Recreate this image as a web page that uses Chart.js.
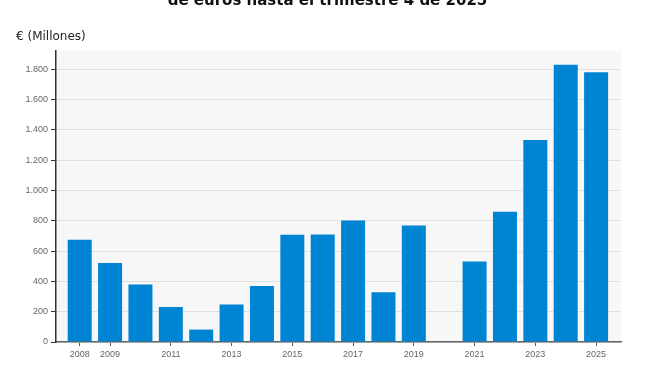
<!DOCTYPE html>
<html>
<head>
<meta charset="utf-8">
<script src="https://cdn.jsdelivr.net/npm/chart.js@4/dist/chart.umd.min.js"></script>
<style>
  html, body { margin: 0; padding: 0; background: #fff; overflow: hidden; }
  #wrap { position: relative; width: 655px; height: 371px; }
  #title { position: absolute; left: 0; width: 655px; top: -9px; text-align: center;
    font: bold 15px "DejaVu Sans", sans-serif; color: #111; white-space: nowrap; }
  #unit { position: absolute; left: 16px; top: 29px; font: 12px "DejaVu Sans", sans-serif; color: #222; }
</style>
</head>
<body>
<div id="wrap">
  <canvas id="chart" width="655" height="371"></canvas>
  <div id="title">de euros hasta el trimestre 4 de 2025</div>
  <div id="unit">€ (Millones)</div>
</div>
<script>
const years = [2008, 2009, 2010, 2011, 2012, 2013, 2014, 2015, 2016, 2017, 2018, 2019, 2020, 2021, 2022, 2023, 2024, 2025];
const amounts = [675, 522, 379, 231, 82, 247, 370, 707, 710, 801, 328, 769, null, 531, 860, 1333, 1829, 1779];
const xTickYears = [2008, 2009, 2011, 2013, 2015, 2017, 2019, 2021, 2023, 2025];
const yTicks = [0, 200, 400, 600, 800, 1000, 1200, 1400, 1600, 1800];

const tickFont = { family: '"Liberation Sans", Arial, sans-serif', size: 9 };

const plotBackground = {
    id: 'plotBackground',
    beforeDraw(chart) {
        const { ctx, chartArea: a } = chart;
        ctx.save();
        ctx.fillStyle = '#f7f7f7';
        ctx.fillRect(a.left, a.top, a.right - a.left, a.bottom - a.top);
        ctx.restore();
    }
};

const ctx = document.getElementById('chart').getContext('2d');
new Chart(ctx, {
    type: 'bar',
    data: {
        datasets: [{
            data: years.map((y, i) => ({ x: y, y: amounts[i] })),
            backgroundColor: '#0084d4',
            borderWidth: 0,
            barPercentage: 0.79,
            categoryPercentage: 1
        }]
    },
    options: {
        responsive: false,
        animation: false,
        layout: { padding: { top: 51, right: 34, left: 0, bottom: 0 } },
        plugins: { legend: { display: false }, tooltip: { enabled: false } },
        scales: {
            x: {
                type: 'linear',
                min: 2007.22,
                max: 2025.82,
                offset: false,
                afterBuildTicks: s => { s.ticks = xTickYears.map(v => ({ value: v })); },
                afterFit: s => { s.height = 29; },
                grid: { display: true, drawOnChartArea: false, offset: false, tickLength: 4, tickColor: '#555' },
                border: { color: '#666', width: 1.5 },
                ticks: { font: tickFont, color: '#666', padding: 3, maxRotation: 0, autoSkip: false,
                    callback: v => String(v) }
            },
            y: {
                min: 0,
                max: 1920,
                afterBuildTicks: s => { s.ticks = yTicks.map(v => ({ value: v })); },
                afterFit: s => { s.width = 56; },
                grid: { color: '#e0e0e0', tickLength: 5, tickColor: '#333' },
                border: { color: '#333', width: 1.5 },
                ticks: { font: tickFont, color: '#666', padding: 3,
                    callback: v => v.toLocaleString('de-DE') }
            }
        }
    },
    plugins: [plotBackground]
});
</script>
</body>
</html>
